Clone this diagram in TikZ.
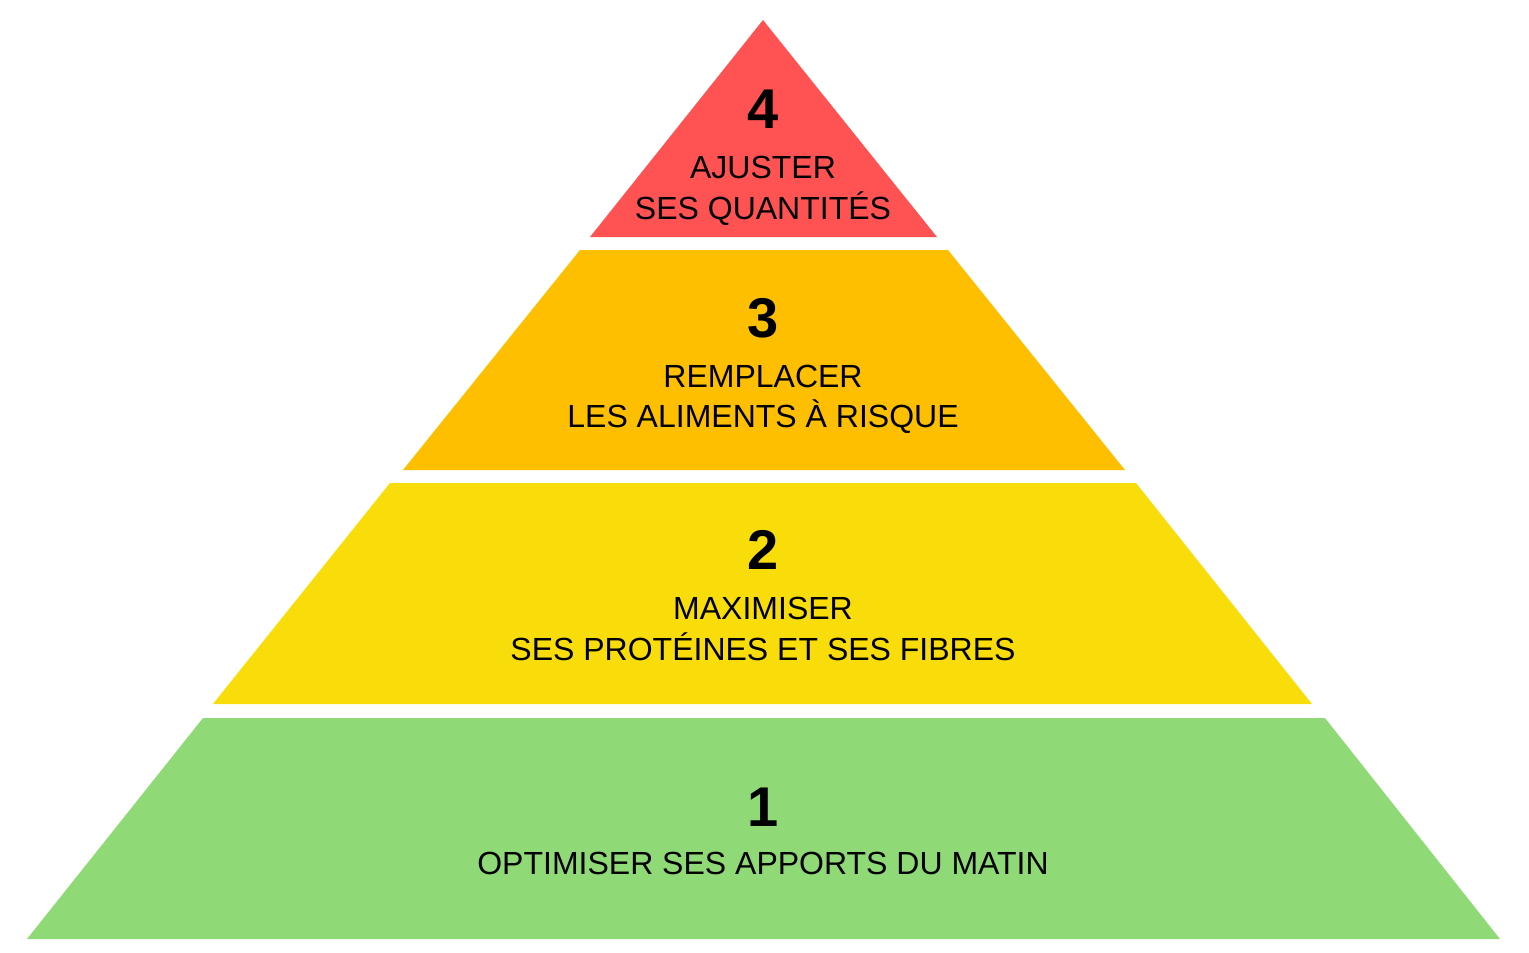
\documentclass[tikz,border=0pt]{standalone}
\usepackage{fontspec}
\setmainfont{Liberation Sans}
\definecolor{cRed}{HTML}{FF5353}
\definecolor{cOrange}{HTML}{FDBF00}
\definecolor{cYellow}{HTML}{F9DD0A}
\definecolor{cGreen}{HTML}{8FD976}
\begin{document}
\begin{tikzpicture}[x=1pt,y=-1pt,
  lvl/.style={draw=none},
  num/.style={anchor=base,inner sep=0pt,font=\fontsize{56}{56}\selectfont\bfseries},
  lbl/.style={anchor=base,inner sep=0pt,font=\fontsize{32}{32}\selectfont}]
\useasboundingbox (0,0) rectangle (1529,953);
\fill[cRed]    (763,20) -- (937,237) -- (590,237) -- cycle;
\fill[cOrange] (580,250) -- (948,250) -- (1125,470) -- (403,470) -- cycle;
\fill[cYellow] (390,483) -- (1136,483) -- (1312,704) -- (213,704) -- cycle;
\fill[cGreen]  (203,718) -- (1325,718) -- (1500,939) -- (27,939) -- cycle;
\node[num] (n4) at (763,128) {4};
\node[lbl] (a4) at (763,178) {AJUSTER};
\node[lbl] (b4) at (763,219) {SES QUANTITÉS};
\node[num] (n3) at (763,337) {3};
\node[lbl] (a3) at (763,387) {REMPLACER};
\node[lbl] (b3) at (763,427) {LES ALIMENTS À RISQUE};
\node[num] (n2) at (763,569) {2};
\node[lbl] (a2) at (763,619) {MAXIMISER};
\node[lbl] (b2) at (763,660) {SES PROTÉINES ET SES FIBRES};
\node[num] (n1) at (763,826) {1};
\node[lbl] (a1) at (763,874) {OPTIMISER SES APPORTS DU MATIN};
\end{tikzpicture}
\end{document}
